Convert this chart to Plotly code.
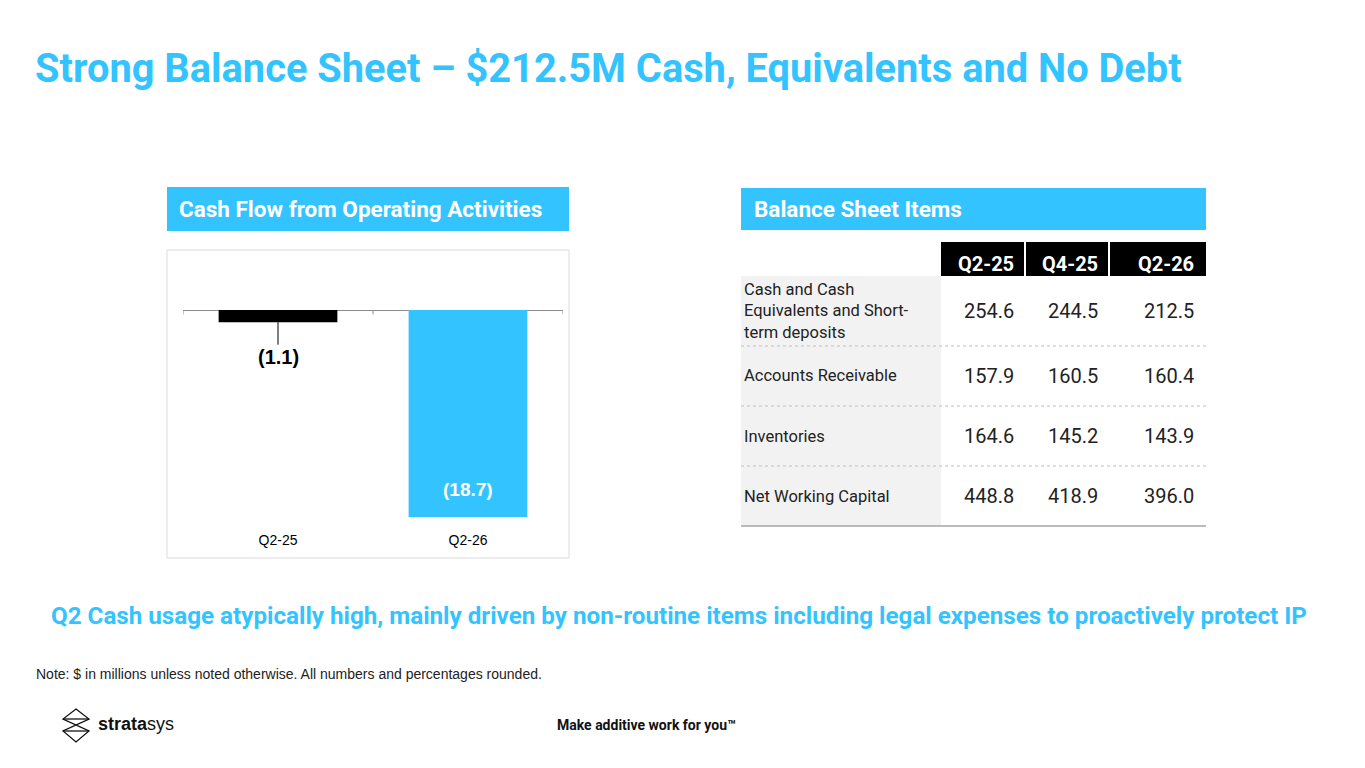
import plotly.graph_objects as go

# page offset: the browser adds an 8px body margin
OFF = 8
W, H = 1365 - 2 * OFF, 768 - 2 * OFF
BLUE = "#33C4FF"

# Cash flow chart data
cf_periods = ["Q2-25", "Q2-26"]
cf_values = [-1.1, -18.7]
cf_colors = ["#000000", BLUE]

# Balance sheet table data
bs_periods = ["Q2-25", "Q4-25", "Q2-26"]
bs_items = ["Cash and Cash<br>Equivalents and Short-<br>term deposits",
            "Accounts Receivable", "Inventories", "Net Working Capital"]
bs_q2_25 = [254.6, 157.9, 164.6, 448.8]
bs_q4_25 = [244.5, 160.5, 145.2, 418.9]
bs_q2_26 = [212.5, 160.4, 143.9, 396.0]


def px(x):
    return (x - OFF) / W


def py(y):
    return 1 - (y - OFF) / H


def fmt(v):
    return f"({abs(v):.1f})" if v < 0 else f"{v:.1f}"


fig = go.Figure()

labels = [fmt(v) for v in cf_values]
fig.add_trace(go.Bar(
    x=cf_periods, y=cf_values,
    marker=dict(color=cf_colors, line=dict(width=0)),
    width=0.625,
    hoverinfo="x+y",
    showlegend=False,
))

fig.update_xaxes(domain=[px(183), px(563)], range=[-0.5, 1.5],
                 showgrid=False, showline=False, zeroline=False, ticks="",
                 tickfont=dict(family="Liberation Sans, Arial", size=14, color="#000"))
fig.update_yaxes(domain=[py(530), py(255)], range=[-19.87, 4.97],
                 showgrid=False, showticklabels=False, zeroline=True,
                 zerolinecolor="#8c8c8c", zerolinewidth=1)

shapes = []
ann = []

# zero-line boundary ticks
for b in [-0.5, 0.5, 1.5]:
    shapes.append(dict(type="line", xref="x", yref="y", x0=b, x1=b, y0=0, y1=-0.4,
                       line=dict(color="#8c8c8c", width=1)))

# bar labels: small bar with leader line, big bar inside near its end
ann.append(dict(x=cf_periods[0], y=cf_values[0], xref="x", yref="y",
                text="<b>" + labels[0] + "</b>", showarrow=True, arrowhead=0,
                arrowwidth=1, arrowcolor="#000", ax=0, ay=35,
                font=dict(family="Liberation Sans, Arial", size=20, color="#000")))
ann.append(dict(x=cf_periods[1], y=cf_values[1], xref="x", yref="y", yanchor="bottom",
                yshift=15, showarrow=False, text="<b>" + labels[1] + "</b>",
                font=dict(family="Liberation Sans, Arial", size=19, color="white")))

# chart frame and headers
shapes.append(dict(type="rect", xref="paper", yref="paper", x0=px(167), x1=px(569),
                   y0=py(558), y1=py(250), line=dict(color="#d9d9d9", width=1)))
shapes.append(dict(type="rect", xref="paper", yref="paper", x0=px(167), x1=px(569),
                   y0=py(231), y1=py(187), fillcolor=BLUE, line=dict(width=0)))
shapes.append(dict(type="rect", xref="paper", yref="paper", x0=px(741), x1=px(1206),
                   y0=py(230), y1=py(188), fillcolor=BLUE, line=dict(width=0)))
ann.append(dict(x=px(177), y=py(209), xref="paper", yref="paper", xanchor="left",
                yanchor="middle", showarrow=False, text="<b>Cash Flow from Operating Activities</b>",
                font=dict(family="Roboto", size=22.5, color="white")))
ann.append(dict(x=px(752), y=py(209), xref="paper", yref="paper", xanchor="left",
                yanchor="middle", showarrow=False, text="<b>Balance Sheet Items</b>",
                font=dict(family="Roboto", size=22.5, color="white")))

# table
col_x0 = [941, 1026, 1110]
col_x1 = [1024, 1108, 1206]
col_right = [1016, 1100, 1196]
row_c = [311, 376, 436, 496]
for i, p in enumerate(bs_periods):
    shapes.append(dict(type="rect", xref="paper", yref="paper", x0=px(col_x0[i]), x1=px(col_x1[i]),
                       y0=py(276), y1=py(242), fillcolor="#000", line=dict(width=0)))
    ann.append(dict(x=px(col_right[i]), y=py(264), xref="paper", yref="paper", xanchor="right",
                    yanchor="middle", showarrow=False, text="<b>" + p + "</b>",
                    font=dict(family="Roboto", size=20, color="white")))
shapes.append(dict(type="rect", xref="paper", yref="paper", x0=px(741), x1=px(941),
                   y0=py(526), y1=py(276), fillcolor="#f2f2f2", line=dict(width=0), layer="below"))
for yl in [346, 406, 466]:
    shapes.append(dict(type="line", xref="paper", yref="paper", x0=px(741), x1=px(1206),
                       y0=py(yl), y1=py(yl), line=dict(color="#bfbfbf", width=1, dash="dot")))
shapes.append(dict(type="line", xref="paper", yref="paper", x0=px(741), x1=px(1206),
                   y0=py(526), y1=py(526), line=dict(color="#a6a6a6", width=1.5)))

cols = [bs_q2_25, bs_q4_25, bs_q2_26]
for r, item in enumerate(bs_items):
    ann.append(dict(x=px(742), y=py(row_c[r]), xref="paper", yref="paper", xanchor="left",
                    yanchor="middle", align="left", showarrow=False, text=item,
                    font=dict(family="Roboto", size=16.5, color="#222")))
    for c in range(3):
        ann.append(dict(x=px(col_right[c]), y=py(row_c[r]), xref="paper", yref="paper",
                        xanchor="right", yanchor="middle", showarrow=False, text=fmt(cols[c][r]),
                        font=dict(family="Roboto", size=20, color="#222")))

# titles and notes
ann.append(dict(x=px(33), y=py(69), xref="paper", yref="paper", xanchor="left", yanchor="middle",
                showarrow=False, text="<b>Strong Balance Sheet – $212.5M Cash, Equivalents and No Debt</b>",
                font=dict(family="Roboto", size=39.8, color=BLUE)))
ann.append(dict(x=px(679), y=py(616), xref="paper", yref="paper", xanchor="center", yanchor="middle",
                showarrow=False,
                text="<b>Q2 Cash usage atypically high, mainly driven by non-routine items including legal expenses to proactively protect IP</b>",
                font=dict(family="Roboto", size=24.2, color=BLUE)))
ann.append(dict(x=px(34), y=py(674), xref="paper", yref="paper", xanchor="left", yanchor="middle",
                showarrow=False,
                text="Note: $ in millions unless noted otherwise. All numbers and percentages rounded.",
                font=dict(family="Liberation Sans, Arial", size=14, color="#222")))
ann.append(dict(x=px(646), y=py(725), xref="paper", yref="paper", xanchor="center", yanchor="middle",
                showarrow=False, text="<b>Make additive work for you™</b>",
                font=dict(family="Roboto", size=14, color="#111")))

# logo
logo_pts = [(76, 709), (89, 719), (63, 731), (76, 742), (89, 731), (63, 719)]
path = "M " + " L ".join(f"{px(x)},{py(y)}" for x, y in logo_pts) + " Z"
shapes.append(dict(type="path", xref="paper", yref="paper", path=path,
                   line=dict(color="#111", width=1.3)))
for yl in [719, 731]:
    shapes.append(dict(type="line", xref="paper", yref="paper", x0=px(63), x1=px(89),
                       y0=py(yl), y1=py(yl), line=dict(color="#111", width=1.3)))
ann.append(dict(x=px(96), y=py(724), xref="paper", yref="paper", xanchor="left", yanchor="middle",
                showarrow=False, text="<b>strata</b>sys",
                font=dict(family="Liberation Sans, Arial", size=18, color="#111")))

fig.update_layout(
    width=W, height=H,
    margin=dict(l=0, r=0, t=0, b=0),
    paper_bgcolor="white", plot_bgcolor="white",
    shapes=shapes, annotations=ann,
)

fig.write_html("out.html")
